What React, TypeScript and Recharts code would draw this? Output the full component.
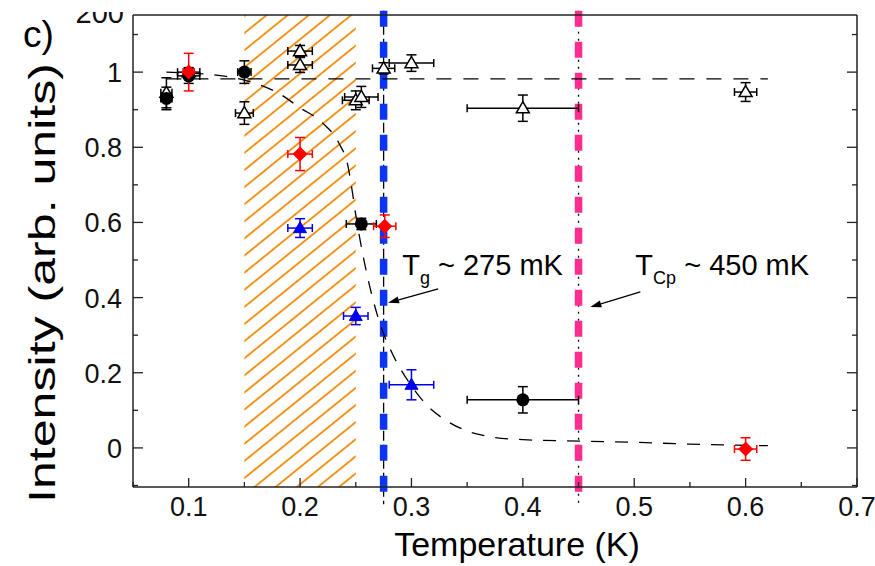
import React from 'react'
import {
  ComposedChart,
  Scatter,
  Line,
  XAxis,
  YAxis,
  ErrorBar,
  ReferenceLine,
  ReferenceArea,
  ReferenceDot,
} from 'recharts'

const FONT = '"Liberation Sans", Arial, Helvetica, sans-serif'

// axis ticks (labels only on the major ones)
const xTicks = [0.05, 0.1, 0.15, 0.2, 0.25, 0.3, 0.35, 0.4, 0.45, 0.5, 0.55, 0.6, 0.65, 0.7]
const xLabels = ['', '0.1', '', '0.2', '', '0.3', '', '0.4', '', '0.5', '', '0.6', '', '0.7']
const yTicks = [-0.1, 0, 0.1, 0.2, 0.3, 0.4, 0.5, 0.6, 0.7, 0.8, 0.9, 1.0, 1.1]
const yLabels = ['', '0', '', '0.2', '', '0.4', '', '0.6', '', '0.8', '', '1', '']

// black filled circles
const blackX = [0.08, 0.1, 0.15, 0.255, 0.4]
const blackY = [0.93, 0.99, 1.0, 0.596, 0.128]
const blackEx = [0.005, 0.01, 0.006, 0.0135, 0.05]
const blackEy = [0.03, 0.02, 0.03, 0.015, 0.035]

// open triangles
const openX = [0.08, 0.1, 0.15, 0.2, 0.2, 0.25, 0.255, 0.275, 0.3, 0.4, 0.6]
const openY = [0.945, 1.0, 0.891, 1.056, 1.019, 0.925, 0.934, 1.01, 1.024, 0.904, 0.947]
const openEx = [0.005, 0.01, 0.008, 0.011, 0.011, 0.012, 0.015, 0.01, 0.02, 0.05, 0.01]
const openEy = [0.04, 0.012, 0.03, 0.015, 0.02, 0.025, 0.028, 0.015, 0.022, 0.035, 0.025]

// red diamonds
const redX = [0.1, 0.2, 0.276, 0.6]
const redY = [1.0, 0.782, 0.59, -0.003]
const redEx = [0.005, 0.011, 0.01, 0.01]
const redEy = [0.05, 0.044, 0.03, 0.03]

// blue filled triangles
const blueX = [0.2, 0.25, 0.3]
const blueY = [0.585, 0.351, 0.168]
const blueEx = [0.011, 0.011, 0.02]
const blueEy = [0.025, 0.023, 0.04]

// dashed guide curves
const fitX = [0.08, 0.13, 0.16, 0.18, 0.2, 0.22, 0.235, 0.243, 0.247, 0.25, 0.256, 0.265, 0.273, 0.283, 0.3, 0.315, 0.33, 0.35, 0.37, 0.4, 0.45, 0.5, 0.55, 0.62]
const fitY = [1.0, 0.99, 0.97, 0.945, 0.905, 0.865, 0.81, 0.75, 0.68, 0.62, 0.52, 0.4, 0.32, 0.25, 0.165, 0.11, 0.075, 0.045, 0.03, 0.022, 0.018, 0.015, 0.01, 0.006]
const flatX = [0.08, 0.62]
const flatY = [0.982, 0.982]

// transition temperatures
const Tg = 0.275
const Tcp = 0.45

const pts = (xs: number[], ys: number[], ex?: number[], ey?: number[]) =>
  xs.map((x, i) => ({ x, y: ys[i], ex: ex ? ex[i] : 0, ey: ey ? ey[i] : 0 }))

const tri = (cx: number, cy: number, s: number) =>
  `M${cx},${cy - s} L${cx + s},${cy + s * 0.7} L${cx - s},${cy + s * 0.7} Z`

const BlackDot = (p: any) => <circle cx={p.cx} cy={p.cy} r={6.5} fill="#000" />
const OpenTri = (p: any) => <path d={tri(p.cx, p.cy, 6.5)} fill="#fff" stroke="#000" strokeWidth={1.5} />
const BlueTri = (p: any) => <path d={tri(p.cx, p.cy, 6.5)} fill="#0000ee" stroke="#0000ee" strokeWidth={1} />
const RedDiamond = (p: any) => (
  <path d={`M${p.cx},${p.cy - 7.5} L${p.cx + 7.5},${p.cy} L${p.cx},${p.cy + 7.5} L${p.cx - 7.5},${p.cy} Z`} fill="#ff0000" />
)

const idx = (ticks: number[], v: number) => ticks.findIndex((t) => Math.abs(t - v) < 1e-6)

function XTick(props: any) {
  const { x, y, payload, side } = props
  const label = xLabels[idx(xTicks, payload.value)]
  const len = label ? 9 : 5
  const dir = side === 'top' ? 1 : -1
  return (
    <g>
      <line x1={x} y1={y} x2={x} y2={y + dir * len} stroke="#222" strokeWidth={1.3} />
      {side === 'bottom' && label && (
        <text x={x} y={y + 29} textAnchor="middle" fontSize={27} fontFamily={FONT} fill="#111">
          {label}
        </text>
      )}
    </g>
  )
}

function YTick(props: any) {
  const { x, y, payload, side } = props
  const label = yLabels[idx(yTicks, payload.value)]
  const len = label ? 10 : 5
  const dir = side === 'left' ? 1 : -1
  return (
    <g>
      <line x1={x} y1={y} x2={x + dir * len} y2={y} stroke="#222" strokeWidth={1.3} />
      {side === 'left' && label && (
        <text x={x - 11} y={y + 10} textAnchor="end" fontSize={27} fontFamily={FONT} fill="#111">
          {label}
        </text>
      )}
    </g>
  )
}

function Arrow(p: any) {
  const { x1, y1, x2, y2 } = p
  const a = Math.atan2(y2 - y1, x2 - x1)
  const L = 11
  const W = 3.5
  const bx = x2 - L * Math.cos(a)
  const by = y2 - L * Math.sin(a)
  const nx = -Math.sin(a) * W
  const ny = Math.cos(a) * W
  return (
    <g>
      <line x1={x1} y1={y1} x2={bx} y2={by} stroke="#000" strokeWidth={1.3} />
      <path d={`M${x2},${y2} L${bx + nx},${by + ny} L${bx - nx},${by - ny} Z`} fill="#000" />
    </g>
  )
}

const annot = (sub: string, rest: string) => (p: any) => (
  <text x={p.cx} y={p.cy} fontSize={29} fontFamily={FONT} fill="#000">
    <tspan>T</tspan>
    <tspan fontSize={18} dy={9}>{sub}</tspan>
    <tspan dy={-9}>{' ~ ' + rest}</tspan>
  </text>
)

const axisLine = { stroke: '#222', strokeWidth: 1.5 }

export default function App() {
  return (
    <div style={{ position: 'absolute', left: 0, top: 0, background: '#fff' }}>
      <ComposedChart width={875} height={566} margin={{ top: 14, right: 17, bottom: 78, left: 132 }}>
        <defs>
          <pattern id="hatch" patternUnits="userSpaceOnUse" width={20} height={13.3} patternTransform="rotate(-39)">
            <line x1={0} y1={6.6} x2={20} y2={6.6} stroke="#f28c0a" strokeWidth={1.8} />
          </pattern>
        </defs>

        <XAxis
          xAxisId={0}
          type="number"
          dataKey="x"
          domain={[0.05, 0.7]}
          ticks={xTicks}
          interval={0}
          allowDataOverflow
          height={1}
          tickSize={0}
          tickMargin={0}
          tickLine={false}
          axisLine={axisLine}
          tick={<XTick side="bottom" />}
        />
        <XAxis
          xAxisId="top"
          orientation="top"
          type="number"
          domain={[0.05, 0.7]}
          ticks={xTicks}
          interval={0}
          allowDataOverflow
          height={1}
          tickSize={0}
          tickMargin={0}
          tickLine={false}
          axisLine={axisLine}
          tick={<XTick side="top" />}
        />
        <YAxis
          yAxisId={0}
          type="number"
          dataKey="y"
          domain={[-0.104, 1.152]}
          ticks={yTicks}
          interval={0}
          allowDataOverflow
          width={1}
          tickSize={0}
          tickMargin={0}
          tickLine={false}
          axisLine={axisLine}
          tick={<YTick side="left" />}
        />
        <YAxis
          yAxisId="right"
          orientation="right"
          type="number"
          domain={[-0.104, 1.152]}
          ticks={yTicks}
          interval={0}
          allowDataOverflow
          width={1}
          tickSize={0}
          tickMargin={0}
          tickLine={false}
          axisLine={axisLine}
          tick={<YTick side="right" />}
        />

        <ReferenceArea x1={0.15} x2={0.25} fill="url(#hatch)" fillOpacity={1} stroke="none" />

        <ReferenceLine
          segment={[{ x: Tg, y: 1.163 }, { x: Tg, y: -0.15 }]}
          ifOverflow="visible"
          stroke="#000"
          strokeWidth={1.3}
          strokeDasharray="10 4"
        />
        <ReferenceLine
          segment={[{ x: Tg, y: 1.163 }, { x: Tg, y: -0.15 }]}
          ifOverflow="visible"
          stroke="#0a35f5"
          strokeWidth={7.5}
          strokeDasharray="16 15"
        />
        <ReferenceLine
          segment={[{ x: Tcp, y: 1.163 }, { x: Tcp, y: -0.15 }]}
          ifOverflow="visible"
          stroke="#000"
          strokeWidth={1.3}
          strokeDasharray="2 5"
        />
        <ReferenceLine
          segment={[{ x: Tcp, y: 1.163 }, { x: Tcp, y: -0.15 }]}
          ifOverflow="visible"
          stroke="#ff2d8f"
          strokeWidth={7.5}
          strokeDasharray="16 15"
        />

        <Line
          data={pts(flatX, flatY)}
          dataKey="y"
          type="linear"
          stroke="#000"
          strokeWidth={1.3}
          strokeDasharray="15 12"
          dot={false}
          isAnimationActive={false}
        />
        <Line
          data={pts(fitX, fitY)}
          dataKey="y"
          type="monotone"
          stroke="#000"
          strokeWidth={1.3}
          strokeDasharray="13 11"
          dot={false}
          isAnimationActive={false}
        />

        <Scatter data={pts(openX, openY, openEx, openEy)} dataKey="y" shape={OpenTri} isAnimationActive={false}>
          <ErrorBar dataKey="ey" direction="y" width={5} stroke="#000" strokeWidth={1.5} />
          <ErrorBar dataKey="ex" direction="x" width={4} stroke="#000" strokeWidth={1.5} />
        </Scatter>
        <Scatter data={pts(blackX, blackY, blackEx, blackEy)} dataKey="y" shape={BlackDot} isAnimationActive={false}>
          <ErrorBar dataKey="ey" direction="y" width={5} stroke="#000" strokeWidth={1.5} />
          <ErrorBar dataKey="ex" direction="x" width={4} stroke="#000" strokeWidth={1.5} />
        </Scatter>
        <Scatter data={pts(redX, redY, redEx, redEy)} dataKey="y" shape={RedDiamond} isAnimationActive={false}>
          <ErrorBar dataKey="ey" direction="y" width={5} stroke="#ff0000" strokeWidth={1.5} />
          <ErrorBar dataKey="ex" direction="x" width={4} stroke="#ff0000" strokeWidth={1.5} />
        </Scatter>
        <Scatter data={pts(blueX, blueY, blueEx, blueEy)} dataKey="y" shape={BlueTri} isAnimationActive={false}>
          <ErrorBar dataKey="ey" direction="y" width={5} stroke="#0000ee" strokeWidth={1.5} />
          <ErrorBar dataKey="ex" direction="x" width={4} stroke="#0000ee" strokeWidth={1.5} />
        </Scatter>

        <ReferenceLine segment={[{ x: 0.324, y: 0.423 }, { x: 0.279, y: 0.386 }]} ifOverflow="visible" shape={Arrow} />
        <ReferenceLine segment={[{ x: 0.5055, y: 0.415 }, { x: 0.4606, y: 0.375 }]} ifOverflow="visible" shape={Arrow} />
        <ReferenceDot x={0.2917} y={0.46} r={0} ifOverflow="visible" shape={annot('g', '275 mK')} />
        <ReferenceDot x={0.501} y={0.46} r={0} ifOverflow="visible" shape={annot('Cp', '450 mK')} />

        <text x={23} y={47} fontSize={37} fontFamily={FONT} fill="#000">c)</text>
        {/* top label, cut off at the top as in the figure */}
        <svg x={0} y={12} width={132} height={30} overflow="hidden">
          <text x={124} y={11} textAnchor="end" fontSize={29} fontFamily={FONT} fill="#111">200</text>
        </svg>
        <text
          transform="translate(55,283) rotate(-90)"
          textAnchor="middle"
          fontSize={37}
          textLength={440}
          lengthAdjust="spacingAndGlyphs"
          fontFamily={FONT}
          fill="#000"
        >
          Intensity (arb. units)
        </text>
        <text x={517} y={556} textAnchor="middle" fontSize={34} fontFamily={FONT} fill="#000">
          Temperature (K)
        </text>
      </ComposedChart>
    </div>
  )
}
